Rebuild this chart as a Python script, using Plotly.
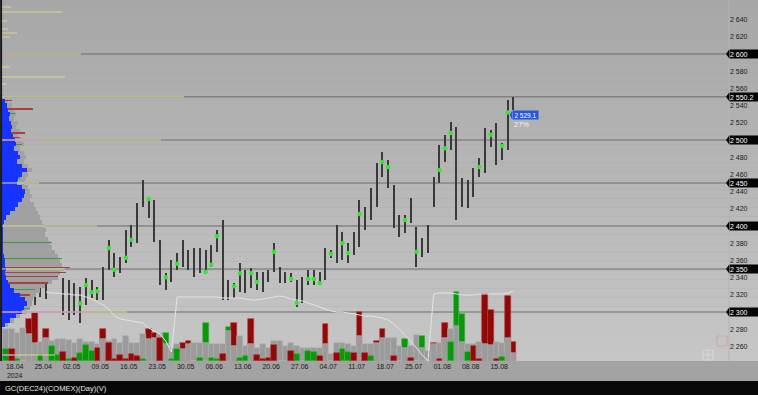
import pandas as pd
import plotly.graph_objects as go

# ---------------- data ----------------
dates = pd.bdate_range("2024-04-16", periods=90)

price_high = [None, None, None, None, None, 2322, 2345, 2350, 2364, 2358,
              2339.5, 2337, 2333.5, 2329, 2339.5, 2337, 2329, 2352, 2384, 2368.5,
              2364, 2395, 2401, 2426.5, 2453.5, 2433.5, 2430, 2383.5, 2345, 2360.5,
              2368.5, 2383.5, 2372, 2374.5, 2374.5, 2372, 2378, 2395, 2407, 2337,
              2333.5, 2357, 2349, 2351, 2346.5, 2346.5, 2349, 2380, 2352, 2346.5,
              2345, 2337, 2340.5, 2349, 2349, 2346.5, 2374.5, 2372, 2401, 2393,
              2380, 2393, 2430, 2422, 2444, 2473, 2486, 2476.5, 2447.5, 2413,
              2413, 2432.5, 2399, 2386, 2401, 2457, 2494, 2506, 2521, 2515,
              2456, 2453.5, 2467.5, 2479, 2514, 2511.5, 2520, 2496.5, 2546.5, 2550.2]
price_low = [None, None, None, None, None, 2308, 2318, 2315, 2346.5, 2341,
             2296.5, 2291, 2296.5, 2287, 2308, 2316, 2314, 2314, 2349, 2341,
             2345, 2357, 2375.5, 2380, 2422, 2409, 2381.5, 2331.5, 2325.5, 2335,
             2349, 2352, 2349, 2340.5, 2345, 2345, 2352, 2370, 2314, 2314,
             2316, 2323, 2322, 2328, 2325.5, 2323.5, 2335, 2346.5, 2333.5, 2333.5,
             2335, 2306, 2310.5, 2331.5, 2331.5, 2331.5, 2337, 2363, 2357, 2360.5,
             2357, 2366.5, 2376, 2395, 2407, 2422, 2457, 2444, 2397.5, 2387,
             2392, 2403.5, 2352, 2364, 2368.5, 2422, 2450, 2474.5, 2488, 2407,
             2422, 2421, 2433.5, 2457, 2461.5, 2492, 2471, 2476.5, 2488.5, 2535]
N = None
poc = [N, N, N, N, N, N, N, N, 2351, N,
       N, N, N, 2310, 2331.5, 2323, 2324, N, 2374.5, 2349,
       N, 2363, 2384, N, N, 2431.5, N, N, 2340.5, N,
       2356, N, N, N, N, 2346.5, 2355, 2388, N, N,
       2330, 2345, N, 2345, 2335, N, N, 2370, N, N,
       2338.5, 2310.5, N, 2338.5, 2338.5, 2333.5, N, 2367.5, N, 2380,
       2368.5, N, 2414, N, N, N, 2474.5, 2468.5, N, N,
       2407, N, 2370, N, N, N, 2465, 2490.5, 2508, N,
       N, N, N, 2468.5, N, 2506, N, 2493, 2532, N]

# volume (thousand contracts)
vol_gray = [111, 111, 99, 117, 93, 64, 67, 82, 70, 78,
            78, 72, 64, 76, 67, 67, 58, 76, 70, 76,
            64, 88, 64, 64, 93, 76, 82, 93, 58, 47,
            58, 41, 58, 64, 64, 64, 61, 61, 58, 105,
            53, 88, 53, 58, 44, 58, 46, 70, 70, 53,
            64, 53, 47, 47, 47, 47, 58, 23, 63, 62,
            58, 53, 88, 58, 58, 64, 82, 82, 82, 53,
            47, 53, 90, 47, 35, 58, 64, 82, 111, 123,
            68, 61, 60, 68, 61, 56, 68, 64, 79, 29]
vol_color = [43, 43, 6, 0, 148, 169, 20, 111, 53, 20,
             32, 6, 9, 29, 56, 35, 47, 111, 64, 8,
             20, 6, 24, 18, 6, 111, 99, 82, 97, 6,
             41, 64, 70, 0, 12, 134, 9, 7, 23, 119,
             134, 12, 18, 146, 20, 6, 11, 56, 0, 0,
             35, 23, 0, 35, 32, 18, 128, 0, 28, 41,
             32, 27, 172, 29, 18, 70, 111, 0, 18, 0,
             78, 12, 0, 88, 0, 62, 6, 132, 68, 243,
             166, 33, 53, 6, 233, 177, 6, 15, 228, 68]
vol_dir = ["g", "r", "g", "-", "r", "r", "g", "r", "g", "g",
           "r", "g", "r", "g", "g", "g", "r", "r", "r", "r",
           "r", "r", "r", "r", "g", "r", "r", "r", "g", "g",
           "g", "r", "r", "-", "g", "g", "g", "g", "r", "g",
           "r", "g", "g", "r", "r", "r", "r", "r", "-", "-",
           "r", "g", "-", "g", "g", "r", "r", "-", "r", "g",
           "g", "r", "r", "r", "g", "r", "r", "-", "r", "-",
           "g", "r", "-", "g", "-", "r", "r", "r", "g", "g",
           "g", "g", "r", "r", "r", "r", "r", "g", "r", "r"]

# open interest style line (thousand contracts)
oi = [N, N, N, N, N, N, N, 350, 345, 345,
      340, 340, 335, 335, 325, 315, 300, 285, 265, 230,
      215, 210, 205, 200, 195, 170, 155, 140, 105, 50,
      325, 325, 325, 325, 325, 325, 325, 325, 320, 320,
      320, 320, 315, 310, 310, 315, 320, 325, 330, 325,
      315, 310, 305, 295, 285, 275, 265, 255, 250, 250,
      245, 240, 235, 230, 230, 225, 220, 210, 190, 165,
      135, 105, 70, 35, 5, 340, 345, 345, 345, 340,
      335, 335, 335, 340, 340, 340, 340, 340, 345, 355]

# volume profile (left), widths in screen px per 5-point price bin
profile_prices = list(range(2285, 2555, 5))
profile_gray = [8, 14, 20, 26, 30, 32, 33, 36, 40, 45,
                52, 58, 60, 64, 62, 60, 58, 55, 52, 50,
                48, 45, 46, 44, 42, 40, 38, 36, 34, 30,
                32, 30, 28, 24, 26, 28, 32, 28, 24, 26,
                24, 20, 24, 22, 18, 20, 16, 18, 14, 16,
                14, 12, 8, 4]
profile_blue = [5, 10, 16, 22, 24, 27, 25, 20, 14, 10,
                8, 6, 5, 6, 5, 5, 4, 3, 3, 3,
                3, 3, 3, 3, 4, 6, 10, 15, 18, 22,
                24, 25, 22, 17, 18, 22, 27, 22, 17, 20,
                18, 14, 16, 15, 13, 11, 12, 11, 9, 10,
                8, 7, 5, 2]
red_spike_prices = [2546, 2536, 2508, 2503, 2470, 2441, 2352, 2346, 2341, 2334, 2320]
red_spike_len = [12, 33, 25, 20, 18, 22, 70, 66, 58, 48, 30]
green_spike_prices = [2531, 2495, 2456, 2381, 2362, 2326, 2304]
green_spike_len = [15, 22, 20, 52, 62, 35, 30]

# yellow / pink level marks on the profile
mark_prices = [2654.7, 2648.8, 2638.4, 2629.0, 2624.4, 2619.8, 2600.0, 2584.9, 2573.3,
               2565.0, 2550.2, 2500.0, 2450.0, 2400.0, 2350.0, 2300.0, 2250.0]
mark_yellow_len = [11, 62, 7, 8, 17, 10, 81, 10, 65, 6, 184, 161, 39, 97, 65, 127, 55]
mark_pink_len = [0, 0, 0, 0, 0, 0, 8, 0, 0, 0, 0, 39, 0, 0, 0, 80, 13]

level_prices = [2600, 2550.2, 2500, 2450, 2400, 2350, 2300]
price_ticks = list(range(2260, 2661, 20))
last_price = 2529.1
last_pct = "27%"
title_text = "GC(DEC24)(COMEX)(Day)(V)"

# ---------------- figure ----------------
W, H = 758, 395
ML, MR, MT, MB = 0, 29, 0, 34
PW, PH = W - ML - MR, H - MT - MB
BAR_PX = 5.7
X0 = -6.15 / BAR_PX
X1 = X0 + PW / BAR_PX
P_PER_PX = 50 / 43.0
Y_LO = 2500 - (PH - 140) * P_PER_PX
Y_HI = 2500 + 140 * P_PER_PX
VOL_PER_PX = 3.5
OI_PER_PX = 5.0

FONT = "Liberation Sans, Arial, sans-serif"
x_idx = list(range(len(dates)))

fig = go.Figure()

# volume profile (drawn first, price bars on top)
fig.add_trace(go.Bar(y=profile_prices, x=profile_gray, orientation="h", width=5,
                     marker=dict(color="#a0a0a0", line=dict(width=0)),
                     xaxis="x2", yaxis="y", hoverinfo="skip"))
fig.add_trace(go.Bar(y=red_spike_prices, x=red_spike_len, orientation="h", width=0.6,
                     marker=dict(color="#a84040", line=dict(width=0)),
                     xaxis="x2", yaxis="y", hoverinfo="skip"))
fig.add_trace(go.Bar(y=green_spike_prices, x=green_spike_len, orientation="h", width=0.6,
                     marker=dict(color="#409a40", line=dict(width=0)),
                     xaxis="x2", yaxis="y", hoverinfo="skip"))
fig.add_trace(go.Bar(y=profile_prices, x=profile_blue, orientation="h", width=5,
                     marker=dict(color="#1633ff", line=dict(width=0)),
                     xaxis="x2", yaxis="y", hoverinfo="skip"))

def seg(prices, lens):
    xs, ys = [], []
    for p, L in zip(prices, lens):
        if L > 0:
            xs += [0, L, None]
            ys += [p, p, None]
    return xs, ys

yx, yy = seg(mark_prices, mark_yellow_len)
fig.add_trace(go.Scatter(x=yx, y=yy, mode="lines", line=dict(color="#dcd88e", width=1),
                         xaxis="x2", yaxis="y", hoverinfo="skip"))
px_, py_ = seg(mark_prices, mark_pink_len)
fig.add_trace(go.Scatter(x=px_, y=py_, mode="lines", line=dict(color="#d68ad6", width=1),
                         xaxis="x2", yaxis="y", hoverinfo="skip"))

# price bars (high-low range)
hl = [None if h is None else h - l for h, l in zip(price_high, price_low)]
base = [0 if l is None else l for l in price_low]
fig.add_trace(go.Bar(x=x_idx, y=hl, base=base, width=0.22,
                     marker=dict(color="#3a3a3a", line=dict(width=0)),
                     xaxis="x", yaxis="y", hoverinfo="skip"))
fig.add_trace(go.Scatter(x=x_idx, y=poc, mode="markers",
                         marker=dict(color="#33e633", size=4.5, symbol="circle"),
                         xaxis="x", yaxis="y", hoverinfo="skip"))

# volume
COLS = {"g": ("#0d960d", "#2fc02f"), "r": ("#8c0a0a", "#c43030")}
back = {"g": ([], []), "r": ([], [])}
front = {"g": ([], []), "r": ([], [])}
for i, (g, c, d) in enumerate(zip(vol_gray, vol_color, vol_dir)):
    if d not in COLS or c <= 0:
        continue
    tgt = back if c > g else front
    tgt[d][0].append(i)
    tgt[d][1].append(c)
for d in ("g", "r"):
    fig.add_trace(go.Bar(x=back[d][0], y=back[d][1], width=1.0,
                         marker=dict(color=COLS[d][0], line=dict(color=COLS[d][1], width=0.6)),
                         xaxis="x", yaxis="y2", hoverinfo="skip"))
fig.add_trace(go.Bar(x=x_idx, y=vol_gray, width=1.0,
                     marker=dict(color="#9b9b9b", line=dict(color="#b3b3b3", width=0.6)),
                     xaxis="x", yaxis="y2", hoverinfo="skip"))
for d in ("g", "r"):
    fig.add_trace(go.Bar(x=front[d][0], y=front[d][1], width=1.0,
                         marker=dict(color=COLS[d][0], line=dict(color=COLS[d][1], width=0.6)),
                         xaxis="x", yaxis="y2", hoverinfo="skip"))

# white indicator line
fig.add_trace(go.Scatter(x=x_idx, y=oi, mode="lines",
                         line=dict(color="#e4e4e4", width=1),
                         xaxis="x", yaxis="y3", hoverinfo="skip"))

# ---------------- decorations ----------------
shapes = []
n_bands = 40
full_w = W / PW
for k in range(n_bands):
    t = k / (n_bands - 1)
    v = int(round(167 + t * 31))
    y1 = 1 - k / n_bands
    y0 = 1 - (k + 1) / n_bands
    shapes.append(dict(type="rect", xref="paper", yref="paper", x0=0, x1=full_w,
                       y0=y0, y1=y1, fillcolor=f"rgb({v},{v},{v})",
                       line=dict(width=0), layer="below"))
shapes.append(dict(type="rect", xref="paper", yref="paper", x0=0, x1=full_w,
                   y0=-(MB) / PH, y1=-(MB - 14) / PH, fillcolor="#080808",
                   line=dict(width=0), layer="below"))
shapes.append(dict(type="line", xref="paper", yref="paper", x0=1, x1=1, y0=0, y1=1,
                   line=dict(color="#b4b4b4", width=1), layer="below"))
shapes.append(dict(type="line", xref="paper", yref="paper", x0=0.0015, x1=0.0015, y0=0, y1=1,
                   line=dict(color="#1c1c1c", width=2), layer="above"))
for lv in level_prices:
    shapes.append(dict(type="line", xref="paper", yref="y", x0=0, x1=1, y0=lv, y1=lv,
                       line=dict(color="#6c6c6c", width=1), layer="below"))

def fmt(v):
    if float(v).is_integer():
        return f"{int(v):,}".replace(",", " ")
    return f"{v:,.1f}".replace(",", " ")

annotations = []
half = 4.2 * P_PER_PX
tip = (PW - 3) / PW
for lv in level_prices:
    annotations.append(dict(x=1, xref="paper", xanchor="left", y=lv, yref="y",
                            yanchor="middle", text=fmt(lv), showarrow=False,
                            font=dict(color="#ffffff", size=7, family=FONT),
                            bgcolor="#050505", width=28, height=8, align="left",
                            borderpad=0))
    shapes.append(dict(type="path", xref="paper", yref="y",
                       path=f"M {tip},{lv} L 1,{lv + half} L 1,{lv - half} Z",
                       fillcolor="#050505", line=dict(width=0), layer="above"))

lp_x = (512 - 6.15) / BAR_PX
annotations.append(dict(x=lp_x, xref="x", xanchor="left", y=last_price, yref="y",
                        yanchor="middle", text=fmt(last_price), showarrow=False,
                        font=dict(color="#ffffff", size=6.5, family=FONT),
                        bgcolor="#2456e0", width=25, height=8, align="center", borderpad=0))
shapes.append(dict(type="path", xref="x", yref="y",
                   path=f"M {lp_x - 0.4},{last_price} L {lp_x},{last_price + half} L {lp_x},{last_price - half} Z",
                   fillcolor="#2456e0", line=dict(width=0), layer="above"))
annotations.append(dict(x=lp_x, xref="x", xanchor="left", y=last_price - 10.5, yref="y",
                        yanchor="middle", text=last_pct, showarrow=False,
                        font=dict(color="#f2f2f2", size=7.5, family=FONT)))
annotations.append(dict(x=0.004, xref="paper", xanchor="left", y=-(MB - 7) / PH, yref="paper",
                        yanchor="middle", text=title_text, showarrow=False,
                        font=dict(color="#e6e6e6", size=7.5, family=FONT)))

def px2paper(x, y):
    return x / PW, (PH - y) / PH
gx0, gy0 = px2paper(703, 350)
gx1, gy1 = px2paper(713, 360)
shapes.append(dict(type="rect", xref="paper", yref="paper", x0=gx0, x1=gx1, y0=gy1, y1=gy0,
                   line=dict(color="#d6d6d6", width=1), layer="above"))
mx, my = px2paper(708, 355)
shapes.append(dict(type="line", xref="paper", yref="paper", x0=mx, x1=mx, y0=gy1, y1=gy0,
                   line=dict(color="#d6d6d6", width=1), layer="above"))
shapes.append(dict(type="line", xref="paper", yref="paper", x0=gx0, x1=gx1, y0=my, y1=my,
                   line=dict(color="#d6d6d6", width=1), layer="above"))
sx0, sy0 = px2paper(717, 336)
sx1, sy1 = px2paper(727, 346)
shapes.append(dict(type="rect", xref="paper", yref="paper", x0=sx0, x1=sx1, y0=sy1, y1=sy0,
                   line=dict(color="#d2a6a0", width=1), layer="above"))

tickvals, ticktext = [], []
for i, d in enumerate(dates):
    if d.weekday() == 3:
        tickvals.append(i - 0.5)
        ticktext.append(d.strftime("%d.%m"))
ticktext[0] = ticktext[0] + "<br>" + str(dates[0].year)

y_tickvals = [v for v in price_ticks if v % 100 != 0]
y_ticktext = [fmt(v) for v in y_tickvals]

fig.update_layout(
    width=W, height=H, autosize=False,
    margin=dict(l=ML, r=MR, t=MT, b=MB, pad=0),
    paper_bgcolor="#a3a3a3", plot_bgcolor="rgba(0,0,0,0)",
    barmode="overlay", bargap=0, showlegend=False,
    font=dict(family=FONT, size=7, color="#1a1a1a"),
    xaxis=dict(range=[X0, X1], tickvals=tickvals, ticktext=ticktext, ticks="",
               showgrid=False, zeroline=False, showline=False,
               tickfont=dict(size=7, color="#1a1a1a", family=FONT)),
    xaxis2=dict(range=[0, PW], overlaying="x", visible=False),
    yaxis=dict(range=[Y_LO, Y_HI], side="right", tickvals=y_tickvals, ticktext=y_ticktext,
               ticks="", showgrid=False, zeroline=False, showline=False,
               tickfont=dict(size=7, color="#1a1a1a", family=FONT)),
    yaxis2=dict(range=[0, PH * VOL_PER_PX], overlaying="y", visible=False),
    yaxis3=dict(range=[OI_PER_PX, (PH + 1) * OI_PER_PX], overlaying="y", visible=False),
    shapes=shapes, annotations=annotations,
)

fig.write_html("out.html")
